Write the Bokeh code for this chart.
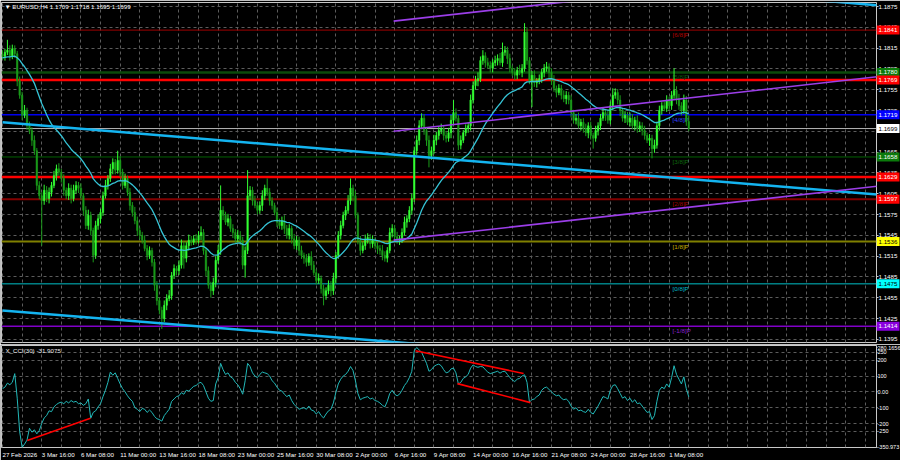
from bokeh.plotting import figure
from bokeh.models import Range1d, FixedTicker, Span, Label, Grid, PrintfTickFormatter
from bokeh.layouts import column
from bokeh.core.properties import value
from bokeh.embed import file_html
from bokeh.resources import INLINE
try:
    from bokeh.models import GlobalInlineStyleSheet
except Exception:
    GlobalInlineStyleSheet = None

FONT = "Liberation Sans"
FS = "6.2px"
FS_CCI_AXIS = "5.5px"
GRID = "#5c5c5c"

symbol_title = "\u25bc EURUSD,H4  1.1709 1.1718 1.1695 1.1699"
cci_title = "X_CCI(30) -31.9075"

# ---------------- price data (H4 bars, 27 Feb 2026 00:00 onwards) ----------------
first_open = 1.1806
closes = [
    1.1803, 1.1809, 1.1812, 1.1804, 1.1814, 1.1807, 1.1768, 1.1747, 1.1718, 1.1725,
    1.1703, 1.1696, 1.1682, 1.1667, 1.1617, 1.1602, 1.1595, 1.1610, 1.1598, 1.1607,
    1.1617, 1.1631, 1.1641, 1.1636, 1.1627, 1.1610, 1.1602, 1.1613, 1.1598, 1.1610,
    1.1617, 1.1613, 1.1602, 1.1581, 1.1559, 1.1574, 1.1552, 1.1516, 1.1559, 1.1569,
    1.1578, 1.1602, 1.1617, 1.1627, 1.1641, 1.1650, 1.1639, 1.1653, 1.1636, 1.1617,
    1.1627, 1.1607, 1.1588, 1.1578, 1.1566, 1.1552, 1.1545, 1.1538, 1.1526, 1.1516,
    1.1523, 1.1506, 1.1473, 1.1451, 1.1437, 1.1425, 1.1444, 1.1454, 1.1458, 1.1487,
    1.1497, 1.1494, 1.1502, 1.1530, 1.1512, 1.1530, 1.1538, 1.1535, 1.1540, 1.1538,
    1.1545, 1.1549, 1.1523, 1.1494, 1.1473, 1.1465, 1.1477, 1.1509, 1.1523, 1.1581,
    1.1574, 1.1564, 1.1569, 1.1555, 1.1549, 1.1540, 1.1545, 1.1538, 1.1502, 1.1523,
    1.1602, 1.1610, 1.1595, 1.1588, 1.1581, 1.1588, 1.1602, 1.1613, 1.1607, 1.1595,
    1.1588, 1.1578, 1.1564, 1.1559, 1.1566, 1.1555, 1.1545, 1.1555, 1.1540, 1.1530,
    1.1538, 1.1523, 1.1516, 1.1512, 1.1506, 1.1514, 1.1502, 1.1491, 1.1480, 1.1483,
    1.1468, 1.1458, 1.1465, 1.1473, 1.1465, 1.1483, 1.1516, 1.1545, 1.1559, 1.1574,
    1.1581, 1.1595, 1.1613, 1.1602, 1.1574, 1.1538, 1.1523, 1.1530, 1.1538, 1.1542,
    1.1533, 1.1538, 1.1530, 1.1526, 1.1523, 1.1516, 1.1512, 1.1523, 1.1549, 1.1555,
    1.1543, 1.1538, 1.1540, 1.1549, 1.1564, 1.1569, 1.1581, 1.1598, 1.1667, 1.1682,
    1.1703, 1.1714, 1.1696, 1.1682, 1.1660, 1.1667, 1.1682, 1.1689, 1.1696, 1.1699,
    1.1689, 1.1685, 1.1693, 1.1711, 1.1722, 1.1714, 1.1675, 1.1682, 1.1693, 1.1699,
    1.1703, 1.1740, 1.1761, 1.1768, 1.1771, 1.1797, 1.1804, 1.1794, 1.1790, 1.1786,
    1.1794, 1.1797, 1.1800, 1.1794, 1.1809, 1.1812, 1.1800, 1.1786, 1.1780, 1.1776,
    1.1783, 1.1780, 1.1786, 1.1838, 1.1797, 1.1768, 1.1776, 1.1765, 1.1768, 1.1771,
    1.1780, 1.1786, 1.1788, 1.1780, 1.1768, 1.1757, 1.1751, 1.1757, 1.1747, 1.1742,
    1.1747, 1.1740, 1.1722, 1.1711, 1.1714, 1.1703, 1.1708, 1.1699, 1.1693, 1.1703,
    1.1689, 1.1685, 1.1696, 1.1703, 1.1714, 1.1722, 1.1718, 1.1711, 1.1732, 1.1747,
    1.1751, 1.1740, 1.1725, 1.1714, 1.1718, 1.1708, 1.1714, 1.1703, 1.1711, 1.1699,
    1.1703, 1.1696, 1.1689, 1.1682, 1.1685, 1.1670, 1.1675, 1.1703, 1.1725, 1.1732,
    1.1728, 1.1740, 1.1732, 1.1747, 1.1754, 1.1742, 1.1732, 1.1725, 1.1740, 1.1709,
    1.1699,
]
# wick lengths above / below the candle body, in pips
wick_up_pips = [
    6, 5, 15, 7, 6, 5, 4, 6, 5, 8, 4, 6, 5, 7, 4, 6, 5, 8, 6, 7,
    5, 7, 6, 8, 5, 6, 4, 7, 5, 8, 6, 5, 7, 4, 6, 8, 5, 4, 7, 6,
    5, 6, 8, 5, 7, 6, 5, 14, 6, 5, 7, 4, 6, 5, 8, 6, 4, 5, 7, 5,
    6, 4, 5, 6, 4, 5, 7, 6, 8, 5, 6, 4, 7, 9, 6, 5, 8, 6, 5, 7,
    6, 9, 5, 4, 6, 5, 7, 6, 8, 36, 6, 5, 7, 4, 6, 5, 8, 6, 5, 6,
    37, 6, 5, 7, 4, 6, 8, 5, 14, 6, 5, 4, 7, 5, 6, 8, 5, 6, 4, 7,
    6, 5, 7, 4, 6, 5, 8, 6, 5, 7, 4, 6, 5, 7, 6, 8, 5, 6, 7, 5,
    6, 8, 14, 5, 7, 4, 6, 5, 8, 6, 5, 7, 4, 6, 5, 8, 6, 5, 7, 6,
    5, 7, 4, 6, 8, 5, 6, 7, 6, 7, 8, 7, 6, 5, 7, 6, 8, 5, 6, 7,
    5, 6, 7, 8, 18, 6, 5, 7, 4, 6, 5, 8, 6, 7, 9, 6, 8, 5, 7, 6,
    5, 7, 6, 8, 14, 6, 5, 7, 4, 6, 5, 8, 6, 13, 7, 5, 6, 7, 4, 6,
    5, 6, 7, 5, 6, 8, 4, 6, 5, 7, 6, 5, 7, 4, 6, 8, 5, 6, 7, 5,
    6, 4, 7, 5, 6, 8, 5, 7, 6, 10, 6, 5, 7, 4, 6, 5, 8, 6, 5, 7,
    6, 5, 7, 4, 6, 5, 8, 6, 7, 5, 6, 7, 5, 6, 32, 6, 7, 5, 8, 6,
    9,
]
wick_dn_pips = [
    5, 6, 4, 7, 5, 6, 8, 5, 7, 4, 6, 5, 8, 6, 7, 5, 65, 6, 5, 7,
    6, 4, 7, 5, 6, 8, 5, 6, 7, 4, 5, 7, 6, 8, 5, 6, 7, 10, 5, 6,
    7, 5, 4, 6, 5, 8, 6, 5, 7, 6, 4, 5, 7, 6, 5, 8, 6, 5, 4, 7,
    5, 6, 8, 7, 6, 15, 5, 7, 4, 6, 5, 7, 6, 5, 15, 6, 7, 5, 4, 6,
    5, 7, 6, 8, 5, 10, 6, 7, 5, 6, 7, 4, 6, 5, 8, 6, 5, 7, 6, 18,
    5, 6, 7, 4, 6, 5, 8, 6, 5, 7, 6, 4, 7, 5, 6, 8, 5, 6, 7, 5,
    6, 7, 5, 8, 6, 5, 7, 4, 6, 5, 7, 14, 6, 5, 8, 6, 7, 5, 6, 4,
    7, 5, 6, 8, 5, 6, 7, 4, 6, 5, 7, 6, 5, 8, 6, 7, 5, 6, 4, 7,
    6, 5, 7, 6, 4, 8, 5, 6, 5, 6, 7, 5, 6, 8, 17, 6, 5, 7, 6, 5,
    7, 6, 5, 8, 6, 5, 7, 6, 4, 5, 6, 7, 5, 6, 8, 5, 6, 7, 5, 6,
    6, 5, 7, 4, 6, 5, 8, 6, 5, 7, 6, 4, 7, 5, 6, 5, 38, 6, 7, 5,
    6, 7, 5, 8, 6, 5, 7, 4, 6, 5, 8, 6, 7, 5, 6, 4, 7, 6, 5, 8,
    6, 15, 5, 7, 6, 4, 8, 5, 6, 7, 5, 6, 8, 5, 7, 4, 6, 5, 7, 6,
    5, 7, 6, 4, 8, 14, 6, 5, 7, 6, 4, 5, 7, 6, 5, 8, 6, 7, 5, 6,
    4,
]
ma_seed = 1.1801
ma_span = 30

cci_values = [
    20, 30, 55, 45, 60, 115, -40, -250, -350.973, -330,
    -305, -230, -255, -240, -265, -245, -200, -165, -150, -120,
    -125, -95, -80, -70, -65, -75, -60, -70, -55, -65,
    -60, -75, -70, -85, -75, -45, -167, -130, -120, -95,
    -75, -30, 10, 60, 125, 105, 120, 85, 50, 20,
    0, -25, -45, -60, -100, -110, -125, -105, -110, -130,
    -115, -130, -155, -170, -175, -185, -150, -130, -110, -60,
    -45, -30, -25, -5, -15, 10, 5, 20, 35, 40,
    55, 60, 40, 0, -40, -60, -55, 50, 90, 180,
    140, 110, 120, 95, 85, 60, 45, 20, -15, 70,
    180, 160, 120, 100, 90, 110, 125, 120, 115, 100,
    70, 55, 30, 10, 5, -15, -30, -20, -55, -80,
    -95, -110, -105, -100, -110, -90, -115, -120, -140, -125,
    -150, -165, -140, -120, -110, -70, -5, 50, 80, 100,
    110, 130, 160, 135, 70, -10, -50, -40, -35, -30,
    -45, -40, -55, -60, -70, -85, -95, -60, -10, 10,
    -15, -25, -15, 10, 40, 60, 90, 130, 260, 280.1656,
    265, 250, 215, 180, 130, 140, 160, 170, 175, 165,
    140, 120, 125, 145, 150, 120, 50, 60, 85, 95,
    110, 150, 170, 160, 155, 160, 158, 140, 125, 115,
    120, 125, 130, 118, 128, 130, 110, 90, 75, 65,
    80, 85, 100, 108, 60, -65, -50, -45, -30, -20,
    10, 25, 30, 15, 0, -15, -25, -20, -40, -50,
    -45, -60, -90, -110, -100, -120, -115, -125, -130, -110,
    -130, -140, -115, -90, -60, -30, -35, -45, 10, 40,
    45, 20, -10, -40, -30, -55, -40, -65, -50, -75,
    -70, -90, -110, -130, -125, -175, -150, -60, 10, 30,
    20, 50, 30, 90, 165, 110, 80, 50, 95, 20,
    -31.9075,
]

price_ticks = [1.1395, 1.1425, 1.1455, 1.1485, 1.1515, 1.1545, 1.1575, 1.1605, 1.1635,
               1.1665, 1.1695, 1.1725, 1.1755, 1.1785, 1.1815, 1.1845, 1.1875]
cci_ticks = [-350.973, -250, -200, -100, 0, 100, 200, 250, 280.1656]
cci_tick_text = ["-350.973", "-250", "-200", "-100", "0.00", "100", "200", "250", "280.1656"]
cci_grid_levels = [-250, -200, -100, 0, 100, 200, 250]

date_bars = [0, 16, 32, 48, 64, 80, 96, 112, 128, 144, 160, 176, 192, 208, 224, 240, 256, 272]
date_labels = ["27 Feb 2026", "3 Mar 16:00", "6 Mar 08:00", "11 Mar 00:00", "13 Mar 16:00",
               "18 Mar 08:00", "23 Mar 00:00", "25 Mar 16:00", "30 Mar 08:00", "2 Apr 00:00",
               "6 Apr 16:00", "9 Apr 08:00", "14 Apr 00:00", "16 Apr 16:00", "21 Apr 08:00",
               "24 Apr 00:00", "28 Apr 16:00", "1 May 08:00"]

murray_levels = [1.1841, 1.1780, 1.1719, 1.1658, 1.1597, 1.1536, 1.1475, 1.1414]
murray_names = ["[6/8]P", "[5/8]P", "[4/8]P", "[3/8]P", "[2/8]P", "[1/8]P", "[0/8]P", "[-1/8]P"]
murray_line_colors = ["#a00000", "#0b4a0b", "#0000f0", "#006000", "#820000", "#808000", "#00c0c8", "#8000c8"]
murray_text_colors = ["#b00000", "#0d5a0d", "#3040ff", "#0d6a0d", "#a00000", "#c0b000", "#00b8c8", "#8a20d0"]
murray_widths = [1, 2.5, 1.5, 1, 2, 2, 1, 1.5]

red_levels = [1.1769, 1.1629]
bid_price = 1.1699

box_prices = [1.1841, 1.1780, 1.1769, 1.1719, 1.1699, 1.1658, 1.1629, 1.1597, 1.1536, 1.1475, 1.1414]
box_fill = ["#ff0000", "#0b7a0b", "#ff0000", "#0000ff", "#ffffff", "#0b7a0b", "#ff0000", "#ff0000",
            "#ffff00", "#00ffff", "#8a00e0"]
box_text = ["#ffffff", "#ffffff", "#ffffff", "#ffffff", "#000000", "#ffffff", "#ffffff", "#ffffff",
            "#000000", "#000000", "#ffffff"]

# trend lines: (bar0, price0, bar1, price1)
cyan_lines = [(0, 1.1708, 360, 1.1603), (0, 1.14366, 360, 1.1334), (0, 1.1981, 360, 1.1876)]
purple_lines = [(159.6, 1.1538, 360, 1.1617), (159.6, 1.1695, 360, 1.1775), (159.6, 1.1854, 360, 1.1933)]
cci_div_lines = [(10.1, -307, 35.9, -167), (168.5, 260, 212.6, 116), (185.6, 52, 215.4, -68)]

# ---------------- derived series ----------------
n = len(closes)
bars = list(range(n))
opens = [first_open] + closes[:-1]
highs = [max(o, c) + u / 10000 for o, c, u in zip(opens, closes, wick_up_pips)]
lows = [min(o, c) - d / 10000 for o, c, d in zip(opens, closes, wick_dn_pips)]
body_top = [max(o, c) for o, c in zip(opens, closes)]
body_bot = [min(o, c) for o, c in zip(opens, closes)]
ccol = ["#33ff33" if c >= o else "#1a9a1a" for o, c in zip(opens, closes)]

alpha = 2.0 / (ma_span + 1)
ma = []
m = ma_seed
for c in closes:
    m = m + alpha * (c - m)
    ma.append(m)

xr = Range1d(-0.41, 356.6)
main_yr = Range1d(1.13904, 1.18808)
vgrid = list(range(0, 360, 8))


def style_axis(ax, size=FS, tick_out=2):
    ax.axis_line_color = None
    ax.major_tick_line_color = "#c8c8c8"
    ax.major_tick_out = tick_out
    ax.major_tick_in = 0
    ax.minor_tick_line_color = None
    ax.major_label_text_color = "#ffffff"
    ax.major_label_text_font = FONT
    ax.major_label_text_font_size = size
    ax.major_label_standoff = 0


def overlay_fig(**kw):
    f = figure(output_backend="svg", toolbar_location=None, x_axis_location=None, y_axis_location=None,
               background_fill_alpha=0, border_fill_alpha=0, outline_line_color=None, **kw)
    f.grid.visible = False
    return f


# ---------------- main panel ----------------
p = figure(frame_width=875, frame_height=340, x_range=xr, y_range=main_yr,
           output_backend="svg", toolbar_location=None, y_axis_location="right",
           x_axis_location=None, background_fill_color="#000000", border_fill_color="#000000",
           outline_line_color="#c8c8c8", min_border_left=1, min_border_right=24,
           min_border_top=2, min_border_bottom=2)
p.grid.visible = False
p.add_layout(Grid(dimension=0, ticker=FixedTicker(ticks=vgrid), grid_line_color=GRID,
                  grid_line_dash="3 3", grid_line_width=1))
p.add_layout(Grid(dimension=1, ticker=FixedTicker(ticks=price_ticks), grid_line_color=GRID,
                  grid_line_dash="3 3", grid_line_width=1))
ax = p.yaxis[0]
ax.ticker = FixedTicker(ticks=price_ticks)
ax.formatter = PrintfTickFormatter(format="%.4f")
style_axis(ax)

for lvl, lc, lw in zip(murray_levels, murray_line_colors, murray_widths):
    p.add_layout(Span(location=lvl, dimension="width", line_color=lc, line_width=lw, level="underlay"))
for lvl in red_levels:
    p.add_layout(Span(location=lvl, dimension="width", line_color="#ff0000", line_width=2.5, level="underlay"))
p.add_layout(Span(location=bid_price, dimension="width", line_color="#b4b4b4", line_width=1, level="underlay"))

p.text(x=[273.4] * len(murray_levels), y=murray_levels, text=murray_names, text_color=murray_text_colors,
       text_font=value(FONT), text_font_size=FS, text_baseline="top", text_align="left", y_offset=1)

p.segment(x0=bars, y0=lows, x1=bars, y1=highs, line_color=ccol, line_width=1)
p.vbar(x=bars, width=0.62, bottom=body_bot, top=body_top, fill_color=ccol, line_color=ccol, line_width=0.5)
p.line(bars, ma, line_color="#35c4d6", line_width=1.3)

for b0, y0, b1, y1 in cyan_lines:
    p.line([b0, b1], [y0, y1], line_color="#14b4f0", line_width=2.5)
for b0, y0, b1, y1 in purple_lines:
    p.line([b0, b1], [y0, y1], line_color="#9b3ee8", line_width=1.6)

p.add_layout(Label(x=0.8, y=1.1875, text=symbol_title, text_color="#ffffff", text_baseline="middle",
                   text_font=FONT, text_font_size=FS))

# ---------------- CCI panel ----------------
q = figure(frame_width=875, frame_height=102, x_range=xr, y_range=Range1d(-351.6, 292.8),
           output_backend="svg", toolbar_location=None, y_axis_location="right",
           x_axis_location=None, background_fill_color="#000000", border_fill_color="#000000",
           outline_line_color="#c8c8c8", min_border_left=1, min_border_right=24,
           min_border_top=1, min_border_bottom=13)
q.grid.visible = False
q.add_layout(Grid(dimension=0, ticker=FixedTicker(ticks=vgrid), grid_line_color=GRID,
                  grid_line_dash="3 3", grid_line_width=1))
q.add_layout(Grid(dimension=1, ticker=FixedTicker(ticks=cci_grid_levels), grid_line_color=GRID,
                  grid_line_dash="3 3", grid_line_width=1))
qa = q.yaxis[0]
qa.ticker = FixedTicker(ticks=cci_ticks)
qa.major_label_overrides = {t: s for t, s in zip(cci_ticks, cci_tick_text)}
style_axis(qa, size=FS_CCI_AXIS, tick_out=1)

q.line(bars, cci_values, line_color="#22b8b8", line_width=1)
for b0, y0, b1, y1 in cci_div_lines:
    q.line([b0, b1], [y0, y1], line_color="#ff0000", line_width=1.6)

q.add_layout(Label(x=1.2, y=261, text=cci_title, text_color="#e6e6e6", text_baseline="middle",
                   text_font=FONT, text_font_size=FS))

# ---------------- overlay: coloured price boxes on the right price scale ----------------
ov = overlay_fig(frame_width=24, frame_height=340, x_range=Range1d(0, 24), y_range=main_yr,
                 min_border_left=0, min_border_right=0, min_border_top=2, min_border_bottom=2)
ov.rect(x=[11.5] * len(box_prices), y=box_prices, width=23, height=9, height_units="screen",
        fill_color=box_fill, line_color=None)
ov.text(x=[2] * len(box_prices), y=box_prices, text=[f"{v:.4f}" for v in box_prices],
        text_color=box_text, text_font=value(FONT), text_font_size=FS,
        text_baseline="middle", text_align="left")
ov.styles = {"position": "absolute", "left": "876px", "top": "0px", "z-index": "5"}

# ---------------- overlay: time scale under the CCI panel ----------------
dv = overlay_fig(frame_width=875, frame_height=13, x_range=xr, y_range=Range1d(0, 1),
                 min_border_left=1, min_border_right=0, min_border_top=0, min_border_bottom=0)
dv.text(x=date_bars, y=[0.5] * len(date_bars), text=date_labels, text_color="#ffffff",
        text_font=value(FONT), text_font_size=FS, text_baseline="middle", text_align="left")
dv.styles = {"position": "absolute", "left": "0px", "top": "447px", "z-index": "5"}

layout = column(p, q)
layout.styles = {"position": "absolute", "left": "0px", "top": "0px"}
if GlobalInlineStyleSheet is not None:
    layout.stylesheets = [GlobalInlineStyleSheet(css="html, body { margin: 0; padding: 0; overflow: hidden; }")]

open("out.html", "w").write(file_html([layout, ov, dv], INLINE))
